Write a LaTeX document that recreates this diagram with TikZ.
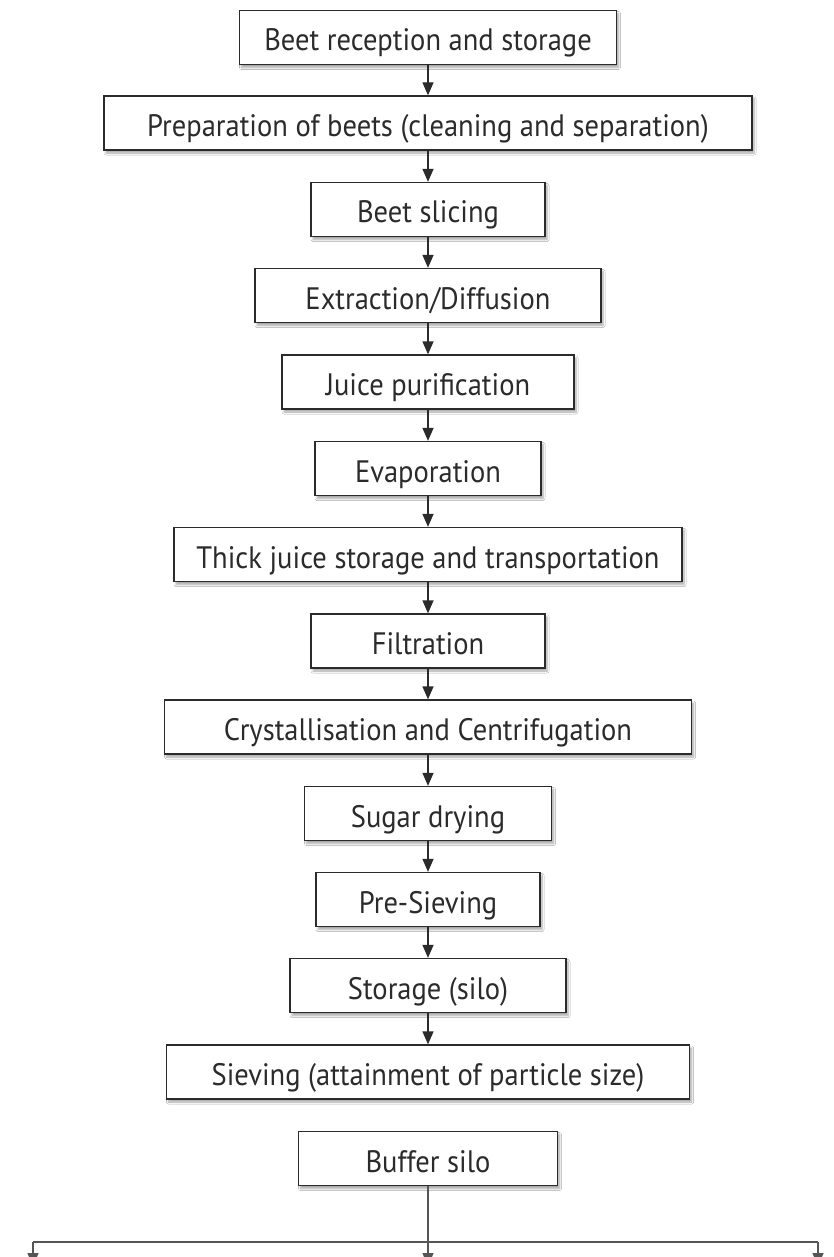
\documentclass[tikz,border=0pt]{standalone}
\usepackage{fontspec}
\setmainfont{PT Sans}[FakeStretch=0.92]
\usetikzlibrary{arrows.meta,shadows.blur}
\definecolor{ink}{HTML}{2B2B2B}
\begin{document}
\begin{tikzpicture}[x=1pt,y=-1pt,
  stepbox/.style={draw=ink, line width=1.3pt, fill=white, text=ink,
    minimum height=54pt, inner sep=0pt, text height=27pt, text depth=0pt,
    font=\fontsize{31}{34}\selectfont,
    blur shadow={shadow xshift=2pt, shadow yshift=-3pt, shadow blur steps=6, shadow opacity=35}},
  flow/.style={draw=ink, line width=1.3pt, -{Triangle[length=13pt,width=11pt]}},
  branch/.style={draw=ink!80, line width=1.3pt}]
\clip (0,0) rectangle (833,1257);
\fill[white] (0,0) rectangle (833,1257);

\node[stepbox, minimum width=377pt] (s1)  at (428,37.5)  {Beet reception and storage};
\node[stepbox, minimum width=648pt] (s2)  at (428,123)   {Preparation of beets (cleaning and separation)};
\node[stepbox, minimum width=234pt] (s3)  at (428,209.5) {Beet slicing};
\node[stepbox, minimum width=346pt] (s4)  at (428,295.5) {Extraction/Diffusion};
\node[stepbox, minimum width=292pt] (s5)  at (428,382)   {Juice purification};
\node[stepbox, minimum width=226pt] (s6)  at (428,468.5) {Evaporation};
\node[stepbox, minimum width=508pt] (s7)  at (428,554.5) {Thick juice storage and transportation};
\node[stepbox, minimum width=234pt] (s8)  at (428,641)   {Filtration};
\node[stepbox, minimum width=527pt] (s9)  at (428,727)   {Crystallisation and Centrifugation};
\node[stepbox, minimum width=247pt] (s10) at (428,813.5) {Sugar drying};
\node[stepbox, minimum width=224pt] (s11) at (428,899.5) {Pre-Sieving};
\node[stepbox, minimum width=276pt] (s12) at (428,985.5) {Storage (silo)};
\node[stepbox, minimum width=523pt] (s13) at (428,1072)  {Sieving (attainment of particle size)};
\node[stepbox, minimum width=259pt] (s14) at (428,1158.5){Buffer silo};

\foreach \a/\b in {s1/s2,s2/s3,s3/s4,s4/s5,s5/s6,s6/s7,s7/s8,s8/s9,s9/s10,s10/s11,s11/s12,s12/s13}
  \draw[flow] (\a.south) -- (\b.north);

% distribution to the three lines below
\coordinate (jc) at (428,1242);
\coordinate (jl) at (33,1242);
\coordinate (jr) at (818,1242);
\coordinate (ol) at (33,1266);
\coordinate (oc) at (428,1266);
\coordinate (or) at (818,1266);
\draw[branch] (s14.south) -- (jc);
\draw[branch] (jl) -- (jr);
\draw[flow, draw=ink!80] (jl) -- (ol);
\draw[flow, draw=ink!80] (jc) -- (oc);
\draw[flow, draw=ink!80] (jr) -- (or);
\end{tikzpicture}
\end{document}
